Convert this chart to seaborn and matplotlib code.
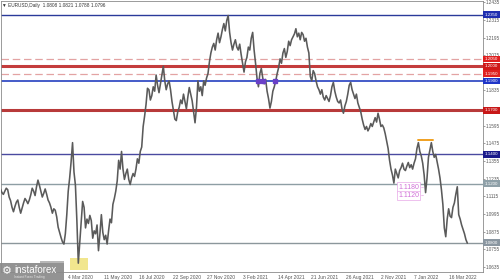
import numpy as np
import pandas as pd
import matplotlib
matplotlib.use("Agg")
import matplotlib.pyplot as plt
import matplotlib.transforms as mtrans
from matplotlib.patches import Rectangle
import seaborn as sns

# ---------------- data ----------------
closes = [
    1.1164, 1.1140, 1.1128, 1.1150, 1.1170, 1.1160, 1.1110, 1.1085, 1.1040, 1.1010,
    1.1045, 1.1075, 1.1090, 1.1040, 1.1000, 1.1035, 1.1070, 1.1100, 1.1085, 1.1065,
    1.1090, 1.1125, 1.1170, 1.1150, 1.1120, 1.1180, 1.1225, 1.1190, 1.1150, 1.1110,
    1.1135, 1.1165, 1.1130, 1.1090, 1.1070, 1.1040, 1.1000, 1.1030, 1.1020, 1.0975,
    1.0905, 1.0870, 1.0835, 1.0805, 1.0790, 1.0860, 1.0990, 1.1150, 1.1240, 1.1350,
    1.1480, 1.1280, 1.1190, 1.0950, 1.0660, 1.0800, 1.0940, 1.1080, 1.1040, 1.0900,
    1.0960, 1.0930, 1.0985, 1.0950, 1.0830, 1.0880, 1.0860, 1.0920, 1.0745, 1.0860,
    1.0990, 1.0870, 1.0820, 1.0850, 1.0790, 1.0880, 1.0960, 1.0935, 1.1060, 1.1100,
    1.1150, 1.1220, 1.1360, 1.1300, 1.1420, 1.1300, 1.1230, 1.1270, 1.1300, 1.1230,
    1.1195, 1.1240, 1.1270, 1.1250, 1.1300, 1.1370, 1.1340, 1.1420, 1.1450, 1.1590,
    1.1660, 1.1740, 1.1850, 1.1840, 1.1770, 1.1800, 1.1860, 1.1830, 1.1940, 1.1870,
    1.1820, 1.1880, 1.1940, 1.2000, 1.1900, 1.1840, 1.1880, 1.1900, 1.1840, 1.1760,
    1.1700, 1.1640, 1.1630, 1.1690, 1.1720, 1.1770, 1.1745, 1.1810, 1.1760, 1.1710,
    1.1790, 1.1855, 1.1810, 1.1765, 1.1690, 1.1615, 1.1720, 1.1900, 1.1830, 1.1860,
    1.1800, 1.1900, 1.1870, 1.1920, 1.1950, 1.2030, 1.2090, 1.2130, 1.2155, 1.2110,
    1.2180, 1.2225, 1.2160, 1.2200, 1.2250, 1.2290, 1.2240, 1.2310, 1.2345, 1.2230,
    1.2160, 1.2110, 1.2150, 1.2180, 1.2130, 1.2110, 1.2150, 1.2080, 1.2020, 1.1960,
    1.2030, 1.2060, 1.2130, 1.2110, 1.2190, 1.2230, 1.2110, 1.2020, 1.1920, 1.1860,
    1.1950, 1.1985, 1.1920, 1.1880, 1.1910, 1.1830, 1.1780, 1.1715, 1.1760, 1.1830,
    1.1860, 1.1900, 1.1950, 1.1990, 1.2050, 1.2020, 1.2090, 1.2120, 1.2060, 1.2100,
    1.2170, 1.2140, 1.2180, 1.2200, 1.2220, 1.2255, 1.2200, 1.2225, 1.2180, 1.2230,
    1.2215, 1.2170, 1.2190, 1.2130, 1.2090, 1.1930, 1.1900, 1.1970, 1.1950, 1.1900,
    1.1860, 1.1840, 1.1810, 1.1840, 1.1790, 1.1770, 1.1800, 1.1780, 1.1760, 1.1800,
    1.1860, 1.1890, 1.1830, 1.1790, 1.1760, 1.1750, 1.1770, 1.1710, 1.1680, 1.1730,
    1.1760, 1.1810, 1.1870, 1.1890, 1.1840, 1.1810, 1.1780, 1.1810, 1.1750, 1.1720,
    1.1690, 1.1640, 1.1600, 1.1570, 1.1590, 1.1560, 1.1580, 1.1610, 1.1590, 1.1620,
    1.1650, 1.1620, 1.1680, 1.1640, 1.1590, 1.1600, 1.1580, 1.1540, 1.1490, 1.1440,
    1.1360, 1.1300, 1.1260, 1.1205, 1.1300, 1.1270, 1.1240, 1.1290, 1.1310, 1.1340,
    1.1300, 1.1290, 1.1320, 1.1345, 1.1310, 1.1330, 1.1300, 1.1340, 1.1370, 1.1440,
    1.1480, 1.1420, 1.1390, 1.1340, 1.1260, 1.1140, 1.1240, 1.1380, 1.1430, 1.1480,
    1.1420, 1.1380, 1.1400, 1.1350, 1.1300, 1.1240, 1.1160, 1.1060, 1.0900, 1.0840,
    1.0960, 1.1030, 1.0980, 1.0970, 1.1040, 1.1070, 1.1130, 1.1180, 1.0990, 1.0960,
    1.0920, 1.0890, 1.0860, 1.0820, 1.0796,
]
bar_step = 2

# horizontal levels
level_prices = [1.2350, 1.2050, 1.2000, 1.1950, 1.1900, 1.1700, 1.1400, 1.1200, 1.0800]
level_colors = ["#2a3a9a", "#e3a3a3", "#c43c3c", "#e3a3a3", "#2540c0",
                "#b83a3a", "#4a4aa0", "#8e9ea4", "#8c979c"]
level_widths = [1.0, 0.9, 2.2, 0.9, 1.2, 2.2, 1.0, 1.0, 1.0]
level_styles = ["-", (0, (6, 3)), "-", (0, (6, 3)), "-", "-", "-", "-", "-"]
level_box_colors = ["#1f2fb0", "#e02020", "#d01818", "#e02020", "#1f35c8",
                    "#c81818", "#1a1a8a", "#8fa0a8", "#8a96a0"]

y_ticks = [1.2435, 1.2315, 1.2195, 1.2075, 1.1955, 1.1835, 1.1715, 1.1595,
           1.1475, 1.1355, 1.1235, 1.1115, 1.0995, 1.0875, 1.0755, 1.0635]
y_ticks_hidden = [1.1955, 1.1715]   # covered by the level boxes
x_tick_bars = [94, 143, 192, 239, 287, 336, 385, 431, 479, 528, 574, 622]
x_tick_labels = ["4 Mar 2020", "11 May 2020", "16 Jul 2020", "22 Sep 2020",
                 "27 Nov 2020", "3 Feb 2021", "14 Apr 2021", "21 Jun 2021",
                 "26 Aug 2021", "2 Nov 2021", "7 Jan 2022", "16 Mar 2022"]

header = "\u25bc EURUSD,Daily  1.0808 1.0821 1.0788 1.0796"

# annotations
yellow_box_bars = [96, 121]
yellow_box_prices = [1.0614, 1.0695]
orange_bars = [579, 600]
orange_price = 1.1495
purple_bars = [358, 365, 381]
purple_price = 1.1900
note_labels = ["1.1180", "1.1120"]
note_prices = [1.1178, 1.1122]
note_bar = 552

# ---------------- plot ----------------
sns.set_style("white")
plt.rcParams["font.family"] = ["Liberation Sans", "DejaVu Sans"]

W, H = 500, 280
fig = plt.figure(figsize=(W / 100, H / 100), dpi=100)
ax = fig.add_axes([0.5 / W, 8 / H, 482 / W, 271.5 / H])

df = pd.DataFrame({"bar": np.arange(len(closes)) * bar_step, "close": closes})
sns.lineplot(data=df, x="bar", y="close", ax=ax, color="#5a5a5a", linewidth=1.15,
             zorder=3)

ymin, ymax = 1.0600, 1.2447
ax.set_ylim(ymin, ymax)
ax.set_xlim(0, 669)

for p, c, w, s in zip(level_prices, level_colors, level_widths, level_styles):
    ax.axhline(p, color=c, linewidth=w, linestyle=s, zorder=2)

ax.add_patch(Rectangle((yellow_box_bars[0], yellow_box_prices[0]),
                       yellow_box_bars[1] - yellow_box_bars[0],
                       yellow_box_prices[1] - yellow_box_prices[0],
                       facecolor="#efe27a", edgecolor="none", alpha=0.85, zorder=2))
ax.plot(orange_bars, [orange_price, orange_price], color="#f0a020", linewidth=1.4, zorder=4)
ax.plot(purple_bars, [purple_price] * len(purple_bars), linestyle="none", marker="s",
        markersize=2.6, color="#6a40c8", zorder=4)
for lab, p in zip(note_labels, note_prices):
    ax.text(note_bar, p, lab, fontsize=5.0, color="#d070d8", ha="left", va="center",
            zorder=5, bbox=dict(boxstyle="square,pad=0.15", facecolor="white",
                                edgecolor="#e8a8e8", linewidth=0.5))
    ax.plot([note_bar + 31, note_bar + 35], [p, p], color="#e8a8e8", linewidth=0.5, zorder=5)

for sp in ax.spines.values():
    sp.set_color("#8a8a8a")
    sp.set_linewidth(0.6)
ax.set_xlabel("")
ax.set_ylabel("")
ax.yaxis.tick_right()
ax.set_yticks(y_ticks)
ax.set_yticklabels(["" if v in y_ticks_hidden else f"{v:.4f}" for v in y_ticks])
ax.tick_params(axis="y", labelsize=3.3, length=1.5, width=0.4, pad=1, colors="#555555")
ax.set_xticks(x_tick_bars)
ax.set_xticklabels(x_tick_labels)
ax.tick_params(axis="x", labelsize=3.5, length=1.5, width=0.4, pad=1, colors="#555555")
for t in ax.get_xticklabels():
    t.set_ha("left")

bt = mtrans.blended_transform_factory(fig.transFigure, ax.transData)
box_h = 0.0045
for p, bc in zip(level_prices, level_box_colors):
    fig.add_artist(Rectangle((483 / W, p - box_h / 2), 17 / W, box_h, transform=bt,
                             facecolor=bc, edgecolor="none", zorder=10))
    fig.add_artist(plt.Text(484.5 / W, p, f"{p:.4f}", transform=bt, fontsize=3.2,
                            color="white", ha="left", va="center", zorder=11))

fig.text(2 / W, 1 - 5.5 / H, header, fontsize=3.4, color="#333333", ha="left", va="center")

fig.add_artist(Rectangle((0, 0), 64 / W, 17 / H, transform=fig.transFigure,
                         facecolor="#8a8a8a", edgecolor="none", alpha=0.92, zorder=12))
fig.add_artist(Rectangle((40 / W, 17 / H), 24 / W, 2 / H, transform=fig.transFigure,
                         facecolor="#b0b0b0", edgecolor="none", alpha=0.9, zorder=12))
fig.text(2 / W, 8.5 / H, "\u2699", fontsize=8, color="white", ha="left", va="center",
         zorder=13, family="DejaVu Sans")
fig.text(14 / W, 10 / H, "instaforex", fontsize=7, color="white", ha="left", va="center", zorder=13)
fig.text(14 / W, 3 / H, "Instant Forex Trading", fontsize=2.3, color="#e8e8e8", ha="left",
         va="center", zorder=13)

fig.savefig("out.png", dpi=100)
